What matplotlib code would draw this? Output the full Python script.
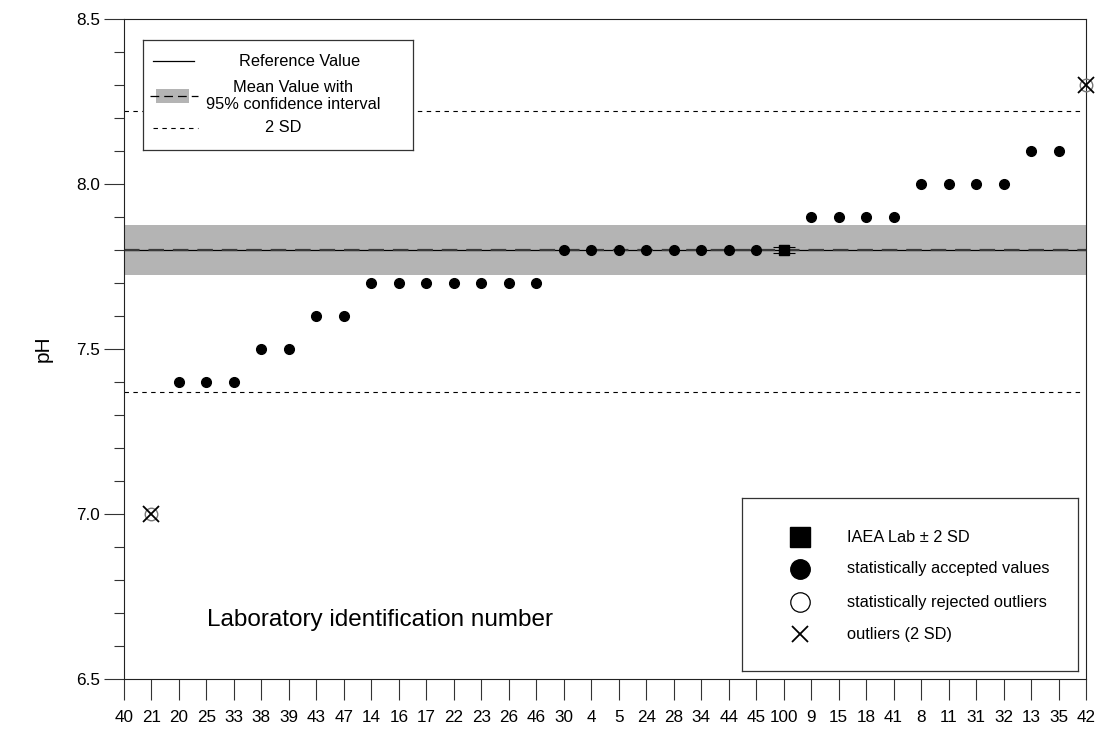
import numpy as np
import matplotlib.pyplot as plt
from matplotlib.patches import Rectangle

plt.rcParams['font.family'] = ['Liberation Sans', 'DejaVu Sans']

# ------------------------
# Data
# ------------------------
lab_ids = ['40', '21', '20', '25', '33', '38', '39', '43', '47', '14', '16', '17',
           '22', '23', '26', '46', '30', '4', '5', '24', '28', '34', '44', '45',
           '100', '9', '15', '18', '41', '8', '11', '31', '32', '13', '35', '42']

accepted_ids = ['20', '25', '33', '38', '39', '43', '47', '14', '16', '17', '22',
                '23', '26', '46', '30', '4', '5', '24', '28', '34', '44', '45',
                '9', '15', '18', '41', '8', '11', '31', '32', '13', '35']
accepted_ph = [7.4, 7.4, 7.4, 7.5, 7.5, 7.6, 7.6, 7.7, 7.7, 7.7, 7.7,
               7.7, 7.7, 7.7, 7.8, 7.8, 7.8, 7.8, 7.8, 7.8, 7.8, 7.8,
               7.9, 7.9, 7.9, 7.9, 8.0, 8.0, 8.0, 8.0, 8.1, 8.1]

outlier_ids = ['21', '42']
outlier_ph = [7.0, 8.3]

iaea_id = '100'
iaea_ph = 7.8
iaea_2sd = 0.01

reference_value = 7.8
mean_value = 7.8
ci_low, ci_high = 7.724, 7.876
sd2_low, sd2_high = 7.37, 8.22

pos = {lab: i for i, lab in enumerate(lab_ids)}

# ------------------------
# Figure
# ------------------------
W, H = 1099, 734
fig = plt.figure(figsize=(W / 100, H / 100), dpi=100)


def px_axes(x0, y0, x1, y1):
    # box given in image pixels (top-left origin)
    return fig.add_axes([x0 / W, 1 - y1 / H, (x1 - x0) / W, (y1 - y0) / H])


ax = px_axes(124, 19, 1086, 679)
xmin, xmax = 0, len(lab_ids) - 1

# confidence band, reference and mean lines
ax.axhspan(ci_low, ci_high, color='#b4b4b4', lw=0, zorder=1)
ax.axhline(reference_value, color='black', lw=0.9, zorder=2)
ax.axhline(mean_value, color='#3a3a3a', lw=1.6, ls=(0, (7, 4)), zorder=2)
ax.hlines([sd2_low, sd2_high], xmin, xmax - 0.1, colors='black', lw=0.8,
          linestyles=(0, (4, 4)), zorder=2)

# accepted values
ax.plot([pos[l] for l in accepted_ids], accepted_ph, 'o', color='black',
        ms=7, zorder=4)

# IAEA lab
ax.errorbar([pos[iaea_id]], [iaea_ph], yerr=[iaea_2sd], fmt='s', color='black',
            ms=7, capsize=8, elinewidth=0.8, capthick=0.8, zorder=4)

# outliers
ox = [pos[l] for l in outlier_ids]
ax.plot(ox, outlier_ph, 'o', mfc='none', mec='#777777', ms=9, mew=1.0,
        zorder=5, clip_on=False)
ax.plot(ox, outlier_ph, 'x', color='black', ms=12, mew=1.3, zorder=6,
        clip_on=False)

ax.set_xlim(xmin, xmax)
ax.set_ylim(6.5, 8.5)
ax.set_xticks(range(len(lab_ids)))
ax.set_xticklabels(lab_ids)
ax.set_yticks(np.arange(6.5, 8.51, 0.5))
ax.set_yticklabels(['%.1f' % v for v in np.arange(6.5, 8.51, 0.5)])
ax.set_yticks(np.arange(6.5, 8.51, 0.1), minor=True)
ax.tick_params(axis='x', direction='out', length=15, width=0.8, pad=7,
               labelsize=12.3, color='#333333')
ax.tick_params(axis='y', which='major', direction='out', length=14.5,
               width=0.8, pad=3, labelsize=12.3, color='#333333')
ax.tick_params(axis='y', which='minor', direction='out', length=7,
               width=0.8, color='#333333')
for s in ax.spines.values():
    s.set_linewidth(0.8)
    s.set_color('#222222')

ax.set_ylabel('pH', fontsize=15, labelpad=17)
ax.text(0.086, 0.089, 'Laboratory identification number', transform=ax.transAxes,
        fontsize=17.5, ha='left', va='center')

# ------------------------
# Legend: lines
# ------------------------
lg1 = px_axes(143, 40, 413, 150)
lg1.set_xlim(143, 413)
lg1.set_ylim(150, 40)
lg1.set_xticks([])
lg1.set_yticks([])
for s in lg1.spines.values():
    s.set_color('#333333')
    s.set_linewidth(0.9)
lg1.set_zorder(10)
lg1.plot([153, 194], [61, 61], color='black', lw=0.9)
lg1.add_patch(Rectangle((156, 89), 33, 14, color='#b4b4b4', lw=0))
lg1.plot([150, 198], [96, 96], color='black', lw=0.9, ls=(0, (7, 4)))
lg1.plot([153, 198], [128, 128], color='black', lw=0.8, ls=(0, (4, 4)))
lg1.text(300, 61, 'Reference Value', fontsize=11.8, ha='center', va='center')
lg1.text(293, 96, 'Mean Value with\n95% confidence interval', fontsize=11.8,
         ha='center', va='center', linespacing=1.15)
lg1.text(283, 128, '2 SD', fontsize=11.8, ha='center', va='center')

# ------------------------
# Legend: symbols
# ------------------------
lg2 = px_axes(742, 498, 1078, 671)
lg2.set_xlim(742, 1078)
lg2.set_ylim(671, 498)
lg2.set_xticks([])
lg2.set_yticks([])
for s in lg2.spines.values():
    s.set_color('#333333')
    s.set_linewidth(0.9)
lg2.set_zorder(10)
rows = [537, 569, 602, 634]
lg2.plot([800], [rows[0]], 's', color='black', ms=14)
lg2.plot([800], [rows[1]], 'o', color='black', ms=14)
lg2.plot([800], [rows[2]], 'o', mfc='white', mec='black', ms=14, mew=0.9)
lg2.plot([800], [rows[3]], 'x', color='black', ms=12, mew=1.3)
labels2 = ['IAEA Lab \u00b1 2 SD', 'statistically accepted values',
           'statistically rejected outliers', 'outliers (2 SD)']
for yv, t in zip(rows, labels2):
    lg2.text(847, yv, t, fontsize=11.8, ha='left', va='center')

fig.savefig('out.png', dpi=100)
